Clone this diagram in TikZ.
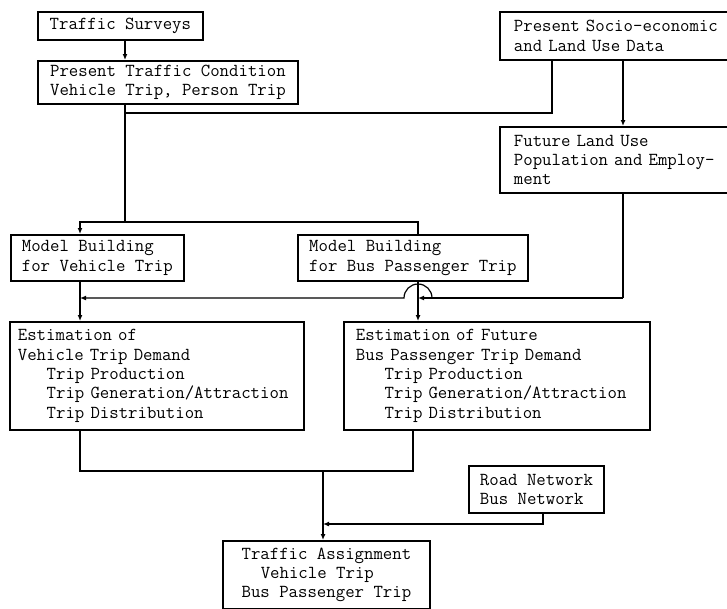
\documentclass[tikz,border=0pt]{standalone}
\usepackage{fontspec}
\usetikzlibrary{arrows.meta}

\begin{document}
\begin{tikzpicture}[x = 1pt, y = -1pt,
    stage/.style = { draw, line width = 1.8pt, align = left, anchor = north west,
                     inner xsep = 11pt, inner ysep = 0pt,
                     font = \ttfamily\fontsize{18.3}{19.4}\selectfont\addfontfeatures{FakeBold=1.2} },
    link/.style = { line width = 1.2pt },
    arr/.style = { link, -{Latex[length = 6pt, width = 5pt]} }]
    \useasboundingbox (0,0) rectangle (727,608);
    \clip (0,0) rectangle (727,608);

    \node[stage, minimum width = 165, minimum height = 28] (survey) at (37,11) {Traffic Surveys};
    \node[stage, minimum width = 260, minimum height = 43] (present) at (37,60)
      {Present Traffic Condition\\Vehicle Trip, Person Trip};
    \node[stage, inner xsep = 14pt, text width = 222pt, minimum height = 48] (socio) at (499,11)
      {Present Socio-economic\\and Land Use Data};
    \node[stage, inner xsep = 14pt, text width = 222pt, minimum height = 66] (landuse) at (499,126)
      {Future Land Use\\Population and Employ-\\ment};
    \node[stage, minimum width = 166, minimum height = 46] (vehmodel) at (10,234)
      {Model Building\\for Vehicle Trip};
    \node[stage, minimum width = 230, minimum height = 46] (busmodel) at (297,234)
      {Model Building\\for Bus Passenger Trip};
    \node[stage, inner xsep = 8pt, text width = 278pt, minimum height = 108] (vehdemand) at (9,321)
      {Estimation of\\Vehicle Trip Demand\\\hspace*{1.575em}Trip Production\\
       \hspace*{1.575em}Trip Generation/Attraction\\\hspace*{1.575em}Trip Distribution};
    \node[stage, inner xsep = 12pt, text width = 282pt, minimum height = 108] (busdemand) at (343,321)
      {Estimation of Future\\Bus Passenger Trip Demand\\\hspace*{1.575em}Trip Production\\
       \hspace*{1.575em}Trip Generation/Attraction\\\hspace*{1.575em}Trip Distribution};
    \node[stage, minimum width = 133, minimum height = 47] (network) at (468,465)
      {Road Network\\Bus Network};
    \node[stage, minimum width = 207, minimum height = 68] (assign) at (222,540)
      {Traffic Assignment\\\hspace*{1.05em}Vehicle Trip\\Bus Passenger Trip};

    % junctions of the connectors
    \coordinate (trunk) at (125,222);
    \coordinate (socjoin) at (552,113);
    \coordinate (vehx) at (80,298);
    \coordinate (busx) at (418,298);
    \coordinate (landx) at (623,298);
    \coordinate (demleft) at (80,471);
    \coordinate (demright) at (413,471);
    \coordinate (assignx) at (323,471);
    \coordinate (netjoin) at (543,524);

    \draw[arr] (survey.south -| trunk) -- (present.north -| trunk);
    \draw[link] (socio.south -| socjoin) -- (socjoin) -- (socjoin -| trunk);
    \draw[link] (present.south -| trunk) -- (trunk);
    \draw[arr] (trunk) -| (vehmodel.north -| vehx);
    \draw[link] (trunk) -| (busmodel.north -| busx);
    \draw[arr] (socio.south -| landx) -- (landuse.north -| landx);
    \draw[link] (landuse.south -| landx) -- (landx);
    \draw[arr] (landx) -- (busx);
    \draw[arr] ([xshift = 14pt]busx) arc[start angle = 0, end angle = 180, radius = 14pt] -- (vehx);
    \draw[arr] (vehmodel.south -| vehx) -- (vehdemand.north -| vehx);
    \draw[arr] (busmodel.south -| busx) -- (busdemand.north -| busx);
    \draw[link] (vehdemand.south -| demleft) -- (demleft) -- (demright) -- (busdemand.south -| demright);
    \draw[arr] (assignx) -- (assign.north -| assignx);
    \draw[arr] (network.south -| netjoin) -- (netjoin) -- (netjoin -| assignx);
\end{tikzpicture}
\end{document}
